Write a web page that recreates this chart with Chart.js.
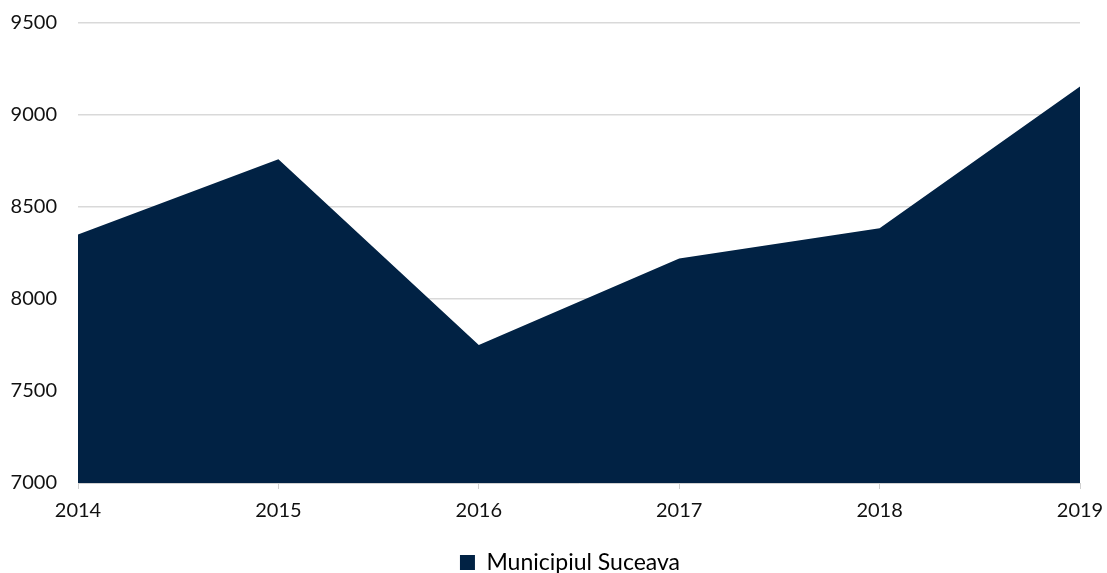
<!DOCTYPE html>
<html>
<head>
<meta charset="utf-8">
<script src="https://cdn.jsdelivr.net/npm/chart.js@4/dist/chart.umd.min.js"></script>
<style>
html,body{margin:0;padding:0;background:#fff;}
#wrap{width:1107px;height:573px;position:relative;}
</style>
</head>
<body>
<div id="wrap"><canvas id="c" width="1107" height="573"></canvas></div>
<script>
const categories = ["2014","2015","2016","2017","2018","2019"];
const seriesName = "Municipiul Suceava";
const seriesValues = [8350, 8760, 7750, 8220, 8385, 9155];
const yMin = 7000, yMax = 9500, yStep = 500;

const FONT = "Lato, 'Open Sans', 'Liberation Sans', sans-serif";
const fillColor = "#012244";

const legendShift = {
  id: 'legendShift',
  afterLayout(chart) {
    if (chart.legend) { chart.legend.left += 60; }
  }
};

new Chart(document.getElementById('c'), {
  type: 'line',
  data: {
    labels: categories,
    datasets: [{
      label: seriesName,
      data: seriesValues,
      fill: 'start',
      backgroundColor: fillColor,
      borderColor: fillColor,
      borderWidth: 0,
      pointRadius: 0,
      tension: 0
    }]
  },
  plugins: [legendShift],
  options: {
    responsive: false,
    animation: false,
    layout: { padding: { left: 0, right: 27, top: 23, bottom: -11 } },
    plugins: {
      tooltip: { enabled: false },
      legend: {
        position: 'bottom',
        labels: {
          font: { family: FONT, size: 23 },
          color: '#111',
          boxWidth: 15,
          boxHeight: 15,
          padding: 10,
          generateLabels: (chart) => [{
            text: seriesName, fillStyle: fillColor, strokeStyle: fillColor, lineWidth: 0, datasetIndex: 0
          }]
        }
      }
    },
    scales: {
      x: {
        offset: false,
        afterFit: (s) => { s.height += 8; s.paddingLeft = 0; s.paddingRight = 0; },
        grid: { drawOnChartArea: false, drawTicks: true, tickLength: 6, color: '#d0d0d0' },
        border: { display: true, color: '#d0d0d0', width: 1 },
        ticks: { font: { family: FONT, size: 20 }, color: '#111', padding: 10, maxRotation: 0 }
      },
      y: {
        min: yMin, max: yMax,
        afterFit: (s) => { s.width = 78; s.paddingTop = 0; s.paddingBottom = 0; },
        grid: { drawTicks: false, color: '#d9d9d9', lineWidth: 1.5 },
        border: { display: false },
        ticks: { stepSize: yStep, font: { family: FONT, size: 20 }, color: '#111', padding: 21,
          callback: (v) => String(v) }
      }
    }
  }
});
</script>
</body>
</html>
